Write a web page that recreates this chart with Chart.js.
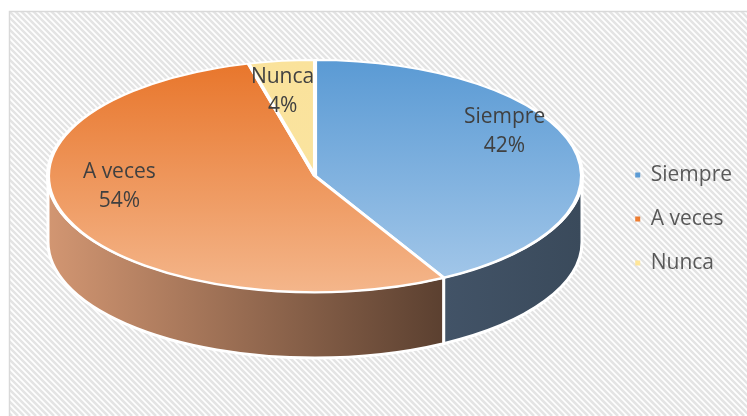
<!DOCTYPE html>
<html>
<head>
<meta charset="utf-8">
<script src="https://cdn.jsdelivr.net/npm/chart.js@4.4.0/dist/chart.umd.min.js"></script>
<style>
  html, body { margin: 0; padding: 0; background: #fff; }
  #wrap { width: 747px; height: 416px; }
</style>
</head>
<body>
<div id="wrap"><canvas id="pie" width="747" height="416"></canvas></div>
<script>
// datos del gráfico
const categories = ["Siempre", "A veces", "Nunca"];
const percents = [42, 54, 4];
const legendColors = ["#5b9bd5", "#ed7d31", "#ffe699"];
// degradado de la cara superior (arriba -> abajo)
const topColors = [["#5a9ad4", "#a6c9ea"], ["#e8752a", "#f4b68b"], ["#fae29b", "#fbe5a3"]];
// color del lateral (izquierda -> derecha)
const sideColors = [["#3a4a5b", "#425367"], ["#d29672", "#5b4030"], ["#c9b57a", "#c9b57a"]];

// vista 3D: elipse superior y grosor
const view = { cx: 315, cy: 176, rx: 267, ry: 116, depth: 66 };
// posición de etiquetas (con algo de perspectiva, como en Excel)
const labelView = { cx: 308, cy: 145, back: 72, front: 147, f: 0.76 };

// fondo rayado y borde del área
const backgroundPlugin = {
  id: "hatch",
  beforeDraw(chart) {
    const { ctx, width, height } = chart;
    ctx.save();
    ctx.fillStyle = "#fff";
    ctx.fillRect(0, 0, width, height);
    ctx.beginPath();
    ctx.rect(9.5, 11.5, width, height);
    ctx.clip();
    ctx.strokeStyle = "#e4e4e4";
    ctx.lineWidth = 2.6;
    for (let k = -height; k < width + 10; k += 6) {
      ctx.beginPath();
      ctx.moveTo(k, 0);
      ctx.lineTo(k + height, height);
      ctx.stroke();
    }
    ctx.restore();
    ctx.save();
    ctx.strokeStyle = "#d9d9d9";
    ctx.lineWidth = 1.5;
    ctx.beginPath();
    ctx.moveTo(9.5, height);
    ctx.lineTo(9.5, 11.5);
    ctx.lineTo(width, 11.5);
    ctx.stroke();
    ctx.restore();
  },
};

// lateral + transformación a elipse
const pie3dPlugin = {
  id: "pie3d",
  beforeDatasetsDraw(chart) {
    const { ctx } = chart;
    const arcs = chart.getDatasetMeta(0).data;
    const { cx, cy, rx, ry, depth } = view;
    const sideRanges = [];
    arcs.forEach((arc, i) => {
      let a = arc.startAngle, b = arc.endAngle;
      // normalizar al rango visible [0, PI]
      while (a < -Math.PI) { a += 2 * Math.PI; b += 2 * Math.PI; }
      const s = Math.max(a, 0), e = Math.min(b, Math.PI);
      if (e > s) sideRanges.push([i, s, e]);
    });
    ctx.save();
    sideRanges.forEach(([i, s, e]) => {
      const g = ctx.createLinearGradient(cx + rx * Math.cos(e), 0, cx + rx * Math.cos(s), 0);
      if (i === 1) {
        g.addColorStop(0, sideColors[i][0]);
        g.addColorStop(1, sideColors[i][1]);
      } else {
        g.addColorStop(0, sideColors[i][1]);
        g.addColorStop(1, sideColors[i][0]);
      }
      ctx.beginPath();
      ctx.ellipse(cx, cy, rx, ry, 0, s, e, false);
      ctx.lineTo(cx + rx * Math.cos(e), cy + ry * Math.sin(e) + depth);
      ctx.ellipse(cx, cy + depth, rx, ry, 0, e, s, true);
      ctx.closePath();
      ctx.fillStyle = g;
      ctx.fill();
      ctx.strokeStyle = "#fff";
      ctx.lineWidth = 3;
      ctx.lineJoin = "round";
      ctx.stroke();
    });
    // circulo de Chart.js -> elipse superior
    const arc0 = arcs[0];
    const r = arc0.outerRadius;
    ctx.save();
    ctx.translate(cx, cy);
    ctx.scale(rx / r, ry / r);
    ctx.translate(-arc0.x, -arc0.y);
  },
  afterDatasetsDraw(chart) {
    const { ctx } = chart;
    ctx.restore();
    ctx.restore();
    // etiquetas de datos
    const arcs = chart.getDatasetMeta(0).data;
    const { rx } = view;
    const { cx, cy, back, front, f } = labelView;
    ctx.save();
    ctx.fillStyle = "#404040";
    ctx.font = "21px 'Open Sans'";
    ctx.textAlign = "center";
    ctx.textBaseline = "middle";
    arcs.forEach((arc, i) => {
      const mid = (arc.startAngle + arc.endAngle) / 2;
      const sin = Math.sin(mid);
      const x = cx + rx * f * Math.cos(mid);
      const y = cy + (sin < 0 ? back : front) * f * sin;
      ctx.fillText(categories[i], x, y - 14);
      ctx.fillText(percents[i] + "%", x, y + 15);
    });
    ctx.restore();
  },
};

const pieCanvas = document.getElementById("pie");
new Chart(pieCanvas, {
  type: "pie",
  data: {
    labels: categories,
    datasets: [
      {
        data: percents,
        borderColor: "#ffffff",
        borderWidth: 3,
        backgroundColor: (c) => {
          const area = c.chart.chartArea;
          const i = c.dataIndex;
          if (!area || i === undefined) return legendColors[i || 0];
          const midY = (area.top + area.bottom) / 2;
          const r = Math.min(area.right - area.left, area.bottom - area.top) / 2;
          const g = c.chart.ctx.createLinearGradient(0, midY - r, 0, midY + r);
          g.addColorStop(0, topColors[i][0]);
          g.addColorStop(1, topColors[i][1]);
          return g;
        },
      },
    ],
  },
  options: {
    responsive: false,
    animation: false,
    layout: { padding: { top: 22, bottom: 0, left: 0, right: 5 } },
    plugins: {
      tooltip: { enabled: false },
      legend: {
        position: "right",
        labels: {
          usePointStyle: true,
          pointStyle: "rect",
          boxWidth: 5,
          boxHeight: 5,
          padding: 23,
          color: "#595959",
          font: { family: "'Open Sans'", size: 21 },
          generateLabels: () =>
            categories.map((name, i) => ({
              text: name,
              fillStyle: legendColors[i],
              strokeStyle: legendColors[i],
              lineWidth: 0,
              pointStyle: "rect",
              hidden: false,
              index: i,
              fontColor: "#595959",
            })),
        },
      },
    },
  },
  plugins: [backgroundPlugin, pie3dPlugin],
});
</script>
</body>
</html>
